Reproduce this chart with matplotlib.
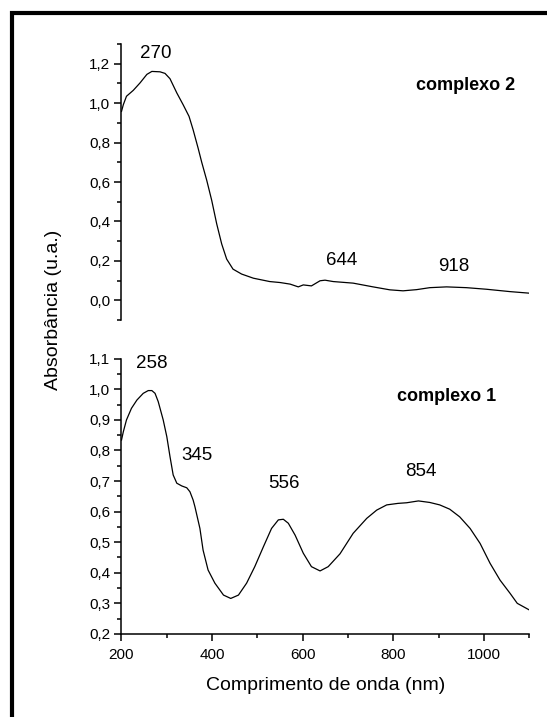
import matplotlib
matplotlib.use("Agg")
import matplotlib.pyplot as plt
import matplotlib.patches as patches
from matplotlib.ticker import MultipleLocator, FuncFormatter

plt.rcParams['font.family'] = ['Liberation Sans', 'DejaVu Sans']

# complexo 2 (top panel)
wl_c2 = [200, 204, 211, 226, 241, 256, 267, 285, 296, 307, 322, 336, 349, 358,
         369, 377, 388, 399, 410, 421, 432, 446, 465, 491, 527, 550, 572, 590, 601,
         619, 638, 649, 667, 711, 755, 792, 821, 851, 880, 917, 961, 1005, 1057, 1100]
abs_c2 = [0.958, 0.992, 1.035, 1.065, 1.103, 1.146, 1.161, 1.159, 1.151, 1.124, 1.052,
          0.992, 0.933, 0.865, 0.772, 0.700, 0.609, 0.507, 0.388, 0.286, 0.209, 0.158,
          0.133, 0.112, 0.095, 0.090, 0.082, 0.068, 0.078, 0.073, 0.099, 0.102, 0.095,
          0.087, 0.068, 0.053, 0.048, 0.054, 0.064, 0.068, 0.064, 0.056, 0.044, 0.036]

# complexo 1 (bottom panel)
wl_c1 = [200, 204, 211, 222, 234, 248, 259, 267, 274, 281, 292, 300, 307, 314, 322,
         333, 344, 351, 358, 362, 373, 380, 391, 406, 425, 441, 458, 476, 494, 513,
         531, 546, 557, 568, 583, 601, 619, 638, 656, 682, 711, 741, 763, 785, 810,
         829, 855, 880, 902, 924, 946, 969, 991, 1013, 1035, 1057, 1073, 1100]
abs_c1 = [0.834, 0.861, 0.900, 0.938, 0.965, 0.987, 0.996, 0.996, 0.987, 0.960, 0.900,
          0.845, 0.780, 0.720, 0.693, 0.684, 0.678, 0.665, 0.638, 0.616, 0.545, 0.474,
          0.409, 0.366, 0.327, 0.316, 0.327, 0.366, 0.420, 0.485, 0.545, 0.573, 0.575,
          0.562, 0.523, 0.464, 0.420, 0.406, 0.420, 0.462, 0.529, 0.578, 0.605, 0.622,
          0.627, 0.629, 0.635, 0.630, 0.622, 0.608, 0.583, 0.545, 0.496, 0.431, 0.376,
          0.333, 0.300, 0.278]

# peak labels: (text, x, y)
peaks_c2 = [("270", 276, 1.252), ("644", 685, 0.201), ("918", 934, 0.169)]
peaks_c1 = [("258", 266, 1.086), ("345", 367, 0.785), ("556", 559, 0.693), ("854", 861, 0.731)]

comma = FuncFormatter(lambda v, pos: f"{v:.1f}".replace('.', ','))

fig = plt.figure(figsize=(5.47, 7.17), dpi=100)
ax_top = fig.add_axes([0.2221, 0.5537, 0.7459, 0.3849])
ax_bot = fig.add_axes([0.2221, 0.1159, 0.7459, 0.3837])

for ax in (ax_top, ax_bot):
    ax.set_xlim(200, 1100)
    for s in ('top', 'right'):
        ax.spines[s].set_visible(False)
    for s in ('left', 'bottom'):
        ax.spines[s].set_linewidth(1.1)
    ax.tick_params(which='major', direction='out', length=5, width=1.1, labelsize=11, pad=3)
    ax.tick_params(which='minor', direction='out', length=2.8, width=1.1)
    ax.yaxis.set_major_formatter(comma)
    ax.xaxis.set_minor_locator(MultipleLocator(100))

# top panel
ax_top.plot(wl_c2, abs_c2, color='black', lw=0.9)
ax_top.set_ylim(-0.1, 1.3)
ax_top.yaxis.set_major_locator(MultipleLocator(0.2))
ax_top.yaxis.set_minor_locator(MultipleLocator(0.1))
ax_top.spines['bottom'].set_visible(False)
ax_top.tick_params(axis='x', which='both', bottom=False, labelbottom=False)
for txt, x, y in peaks_c2:
    ax_top.text(x, y, txt, ha='center', va='center', fontsize=13.5)
ax_top.text(959, 1.089, "complexo 2", ha='center', va='center', fontsize=13, fontweight='bold')

# bottom panel
ax_bot.plot(wl_c1, abs_c1, color='black', lw=0.9)
ax_bot.set_ylim(0.2, 1.1)
ax_bot.yaxis.set_major_locator(MultipleLocator(0.1))
ax_bot.yaxis.set_minor_locator(MultipleLocator(0.05))
ax_bot.xaxis.set_major_locator(MultipleLocator(200))
ax_bot.xaxis.set_major_formatter(FuncFormatter(lambda v, pos: f"{v:.0f}"))
ax_bot.tick_params(axis='x', which='major', pad=5)
for txt, x, y in peaks_c1:
    ax_bot.text(x, y, txt, ha='center', va='center', fontsize=13.5)
ax_bot.text(918, 0.975, "complexo 1", ha='center', va='center', fontsize=13, fontweight='bold')

ax_bot.set_xlabel("Comprimento de onda (nm)", fontsize=14, labelpad=11)
fig.text(54 / 547, 1 - 310 / 717, "Absorbância (u.a.)", rotation=90,
         ha='center', va='center', fontsize=14)

# thick outer frame (right and bottom edges fall outside the picture)
frame = patches.Rectangle((0.022, -0.1), 1.2, 1.0819, transform=fig.transFigure,
                          fill=False, edgecolor='black', linewidth=3, clip_on=False)
fig.patches.append(frame)

fig.savefig("out.png", dpi=100)
